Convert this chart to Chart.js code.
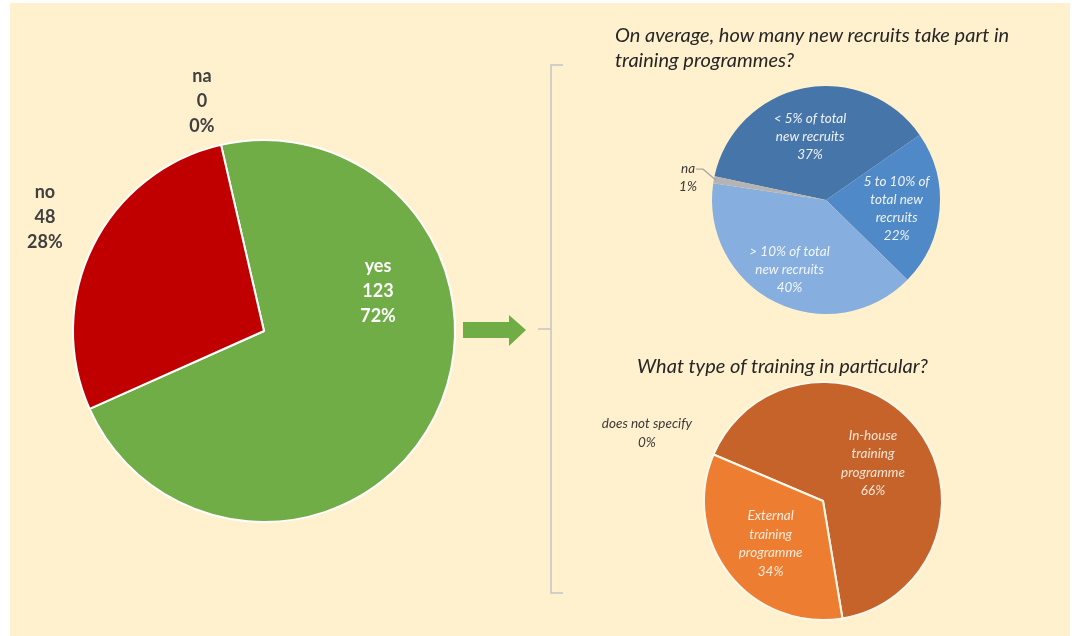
<!DOCTYPE html>
<html>
<head>
<meta charset="utf-8">
<script src="https://cdn.jsdelivr.net/npm/chart.js@4.4.0/dist/chart.umd.min.js"></script>
<style>
  html, body { margin: 0; padding: 0; background: #fff; }
  #board { position: absolute; left: 10px; top: 3px; width: 1060px; height: 633px; background: #FFF0CE; font-family: Lato, sans-serif; }
  #board canvas, #board svg { position: absolute; left: 0; top: 0; }
  .title { position: absolute; font-style: italic; color: #262626; font-size: 20px; line-height: 25px; white-space: nowrap; }
</style>
</head>
<body>
<div id="board">
  <canvas id="mainPie" width="1060" height="633"></canvas>
  <canvas id="shareChart" width="1060" height="633"></canvas>
  <canvas id="typeChart" width="1060" height="633"></canvas>
  <svg width="1060" height="633">
    <!-- arrow from the big pie to the brace -->
    <polygon points="453,319 499,319 499,312 516,327 499,343 499,335 453,335" fill="#70AD47"/>
    <!-- brace grouping the two follow-up questions -->
    <polyline points="553,62 541,62 541,590 553,590" fill="none" stroke="#C3C3C8" stroke-width="1.5"/>
    <line x1="528" y1="326" x2="541" y2="326" stroke="#C3C3C8" stroke-width="1.5"/>
  </svg>
  <div class="title" style="left:605px; top:19px">On average, how many new recruits take part in<br>training programmes?</div>
  <div class="title" style="left:627px; top:350px">What type of training in particular?</div>
</div>
<script>
// Does the company train new recruits?
const answerLabels = ['yes', 'no', 'na'];
const answerCounts = [123, 48, 0];

// Share of new recruits taking part in training (%)
const shareLabels = [['< 5% of total', 'new recruits'], ['5 to 10% of', 'total new', 'recruits'], ['> 10% of total', 'new recruits'], ['na']];
const sharePercents = [37, 22, 40, 1];

// Type of training (%)
const typeLabels = [['In-house', 'training', 'programme'], ['External', 'training', 'programme'], ['does not specify']];
const typePercents = [66, 34, 0];

const W = 1060, H = 633;

// padding that puts a pie of radius r centred on (cx, cy) inside the full-board canvas
function placePie(cx, cy, r, bw) {
    const half = r + bw / 2;
    return { left: cx - half, right: W - (cx + half), top: cy - half, bottom: H - (cy + half) };
}

function asLines(label) {
    return Array.isArray(label) ? label : [label];
}

// draws each slice's text block at an offset from the pie centre (in radius units)
const sliceLabels = {
    id: 'sliceLabels',
    afterDatasetsDraw(chart, args, opts) {
        const ctx = chart.ctx;
        const meta = chart.getDatasetMeta(0);
        const values = chart.data.datasets[0].data;
        const total = values.reduce((a, b) => a + b, 0);
        ctx.save();
        ctx.font = opts.font;
        ctx.textAlign = 'center';
        ctx.textBaseline = 'middle';
        meta.data.forEach((arc, i) => {
            const spot = opts.spots[i];
            const r = arc.outerRadius;
            const x = arc.x + spot[0] * r;
            const y = arc.y + spot[1] * r;
            const lines = asLines(chart.data.labels[i]).slice();
            if (opts.showCount) lines.push(String(values[i]));
            lines.push(Math.round(values[i] / total * 100) + '%');
            const top = y - (lines.length - 1) * opts.lineHeight / 2;
            ctx.fillStyle = opts.colors[i];
            lines.forEach((t, k) => ctx.fillText(t, x, top + k * opts.lineHeight));
            if (opts.leader && opts.leader[i]) {
                const mid = (arc.startAngle + arc.endAngle) / 2;
                const w = ctx.measureText(lines[0]).width;
                ctx.strokeStyle = '#A6A6A6';
                ctx.lineWidth = 1.2;
                ctx.beginPath();
                ctx.moveTo(x + w / 2 + 1, top + 1);
                ctx.lineTo(x + w / 2 + 8, top + 1);
                ctx.lineTo(arc.x + Math.cos(mid) * r * 0.98, arc.y + Math.sin(mid) * r * 0.98);
                ctx.stroke();
            }
        });
        ctx.restore();
    }
};

function pieOptions(rotation, padding, labelOpts) {
    return {
        responsive: false,
        animation: false,
        events: [],
        rotation: rotation,
        layout: { padding: padding },
        plugins: {
            legend: { display: false },
            tooltip: { enabled: false },
            sliceLabels: labelOpts
        }
    };
}

new Chart(document.getElementById('mainPie'), {
    type: 'pie',
    data: {
        labels: answerLabels,
        datasets: [{
            data: answerCounts,
            backgroundColor: ['#70AD47', '#C00000', '#A5A5A5'],
            borderColor: '#FFFFFF',
            borderWidth: 2,
            hoverBorderWidth: 2
        }]
    },
    options: pieOptions(-13, placePie(254, 328, 191, 2), {
        font: 'bold 18px Lato',
        lineHeight: 25,
        showCount: true,
        colors: ['#FFFFFF', '#404040', '#404040'],
        spots: [[0.597, -0.209], [-1.147, -0.597], [-0.325, -1.204]]
    }),
    plugins: [sliceLabels]
});

new Chart(document.getElementById('shareChart'), {
    type: 'pie',
    data: {
        labels: shareLabels,
        datasets: [{
            data: sharePercents,
            backgroundColor: ['#4675A9', '#4F89C7', '#86AEDE', '#B4B4B4'],
            borderWidth: 0,
            hoverBorderWidth: 0
        }]
    },
    options: pieOptions(-78, placePie(816, 197, 114, 0), {
        font: 'italic 13.5px Lato',
        lineHeight: 18,
        showCount: false,
        colors: ['#EEF2F8', '#EEF2F8', '#F2F6FB', '#3A3A3A'],
        spots: [[-0.14, -0.56], [0.62, 0.08], [-0.32, 0.61], [-1.21, -0.20]],
        leader: [false, false, false, true]
    }),
    plugins: [sliceLabels]
});

new Chart(document.getElementById('typeChart'), {
    type: 'pie',
    data: {
        labels: typeLabels,
        datasets: [{
            data: typePercents,
            backgroundColor: ['#C5632A', '#ED7D31', '#A5A5A5'],
            borderColor: '#FFF8EA',
            borderWidth: 2,
            hoverBorderWidth: 2
        }]
    },
    options: pieOptions(-67, placePie(813, 498, 119, 2), {
        font: 'italic 13.5px Lato',
        lineHeight: 18.5,
        showCount: false,
        colors: ['#F7E4D6', '#FBEBDD', '#3A3A3A'],
        spots: [[0.42, -0.32], [-0.44, 0.36], [-1.48, -0.57]]
    }),
    plugins: [sliceLabels]
});
</script>
</body>
</html>
